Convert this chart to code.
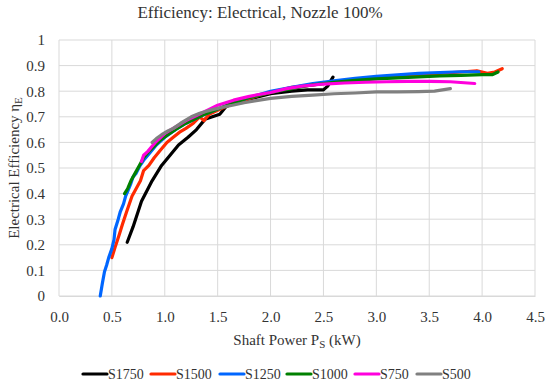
<!DOCTYPE html>
<html>
<head>
<meta charset="utf-8">
<script src="https://cdn.jsdelivr.net/npm/d3@7"></script>
<style>
  body { margin: 0; background: #fff; }
  svg text, svg tspan { font-family: "Liberation Serif", "Times New Roman", serif !important; fill: #333333; }
</style>
</head>
<body>
<div id="root"></div>
<script>
const width = 550;
const height = 388;
const margin = { top: 40, right: 14, bottom: 92, left: 59 };
const serif = '"Liberation Serif", "Times New Roman", serif';

const seriesNames = ['S1750', 'S1500', 'S1250', 'S1000', 'S750', 'S500'];
const seriesColors = ['#000000', '#ff2a00', '#0066ff', '#008000', '#ff00dd', '#808080'];

const xTicks = [0, 0.5, 1, 1.5, 2, 2.5, 3, 3.5, 4, 4.5];
const yTicks = [0, 0.1, 0.2, 0.3, 0.4, 0.5, 0.6, 0.7, 0.8, 0.9, 1];

// [shaft power kW, efficiency]
const s1750 = [
  [0.645, 0.21], [0.7, 0.27], [0.78, 0.37], [0.88, 0.45], [0.97, 0.51],
  [1.05, 0.55], [1.13, 0.59], [1.22, 0.62], [1.3, 0.65], [1.38, 0.69],
  [1.45, 0.7], [1.52, 0.71], [1.58, 0.74], [1.7, 0.76], [1.85, 0.775],
  [2.0, 0.79], [2.2, 0.8], [2.35, 0.805], [2.5, 0.805], [2.54, 0.82],
  [2.59, 0.855],
];
const s1500 = [
  [0.5, 0.15], [0.53, 0.19], [0.57, 0.24], [0.6, 0.28], [0.64, 0.33],
  [0.69, 0.39], [0.73, 0.42], [0.77, 0.45], [0.8, 0.49], [0.85, 0.51],
  [0.9, 0.54], [0.96, 0.57], [1.02, 0.6], [1.08, 0.62], [1.14, 0.64],
  [1.2, 0.655], [1.27, 0.675], [1.33, 0.7], [1.37, 0.685], [1.42, 0.71],
  [1.5, 0.725], [1.6, 0.745], [1.75, 0.765], [1.9, 0.785], [2.05, 0.8],
  [2.2, 0.815], [2.4, 0.825], [2.6, 0.835], [2.8, 0.845], [3.0, 0.85],
  [3.2, 0.86], [3.4, 0.865], [3.6, 0.87], [3.8, 0.875], [3.95, 0.88],
  [4.05, 0.87], [4.12, 0.875], [4.19, 0.888],
];
const s1250 = [
  [0.39, 0], [0.41, 0.05], [0.43, 0.095], [0.45, 0.12], [0.47, 0.15],
  [0.5, 0.185], [0.52, 0.22], [0.53, 0.26], [0.56, 0.3], [0.58, 0.33],
  [0.61, 0.36], [0.63, 0.39], [0.65, 0.41], [0.68, 0.44], [0.7, 0.465],
  [0.73, 0.48], [0.76, 0.505], [0.8, 0.53], [0.86, 0.56], [0.92, 0.59],
  [1.0, 0.62], [1.1, 0.65], [1.2, 0.675], [1.35, 0.705], [1.5, 0.73],
  [1.65, 0.755], [1.8, 0.775], [2.0, 0.8], [2.2, 0.815], [2.4, 0.83],
  [2.6, 0.84], [2.8, 0.85], [3.0, 0.858], [3.2, 0.864], [3.4, 0.87],
  [3.6, 0.873], [3.8, 0.876], [3.97, 0.876],
];
const s1000 = [
  [0.62, 0.4], [0.65, 0.42], [0.68, 0.45], [0.72, 0.48], [0.76, 0.51],
  [0.8, 0.54], [0.85, 0.565], [0.9, 0.585], [0.96, 0.61], [1.03, 0.63],
  [1.1, 0.65], [1.2, 0.675], [1.35, 0.705], [1.5, 0.73], [1.65, 0.755],
  [1.8, 0.775], [2.0, 0.795], [2.2, 0.81], [2.4, 0.825], [2.6, 0.835],
  [2.8, 0.842], [3.0, 0.848], [3.2, 0.852], [3.4, 0.856], [3.6, 0.86],
  [3.8, 0.862], [4.0, 0.865], [4.1, 0.865], [4.15, 0.875],
];
const s750 = [
  [0.78, 0.525], [0.8, 0.55], [0.84, 0.565], [0.87, 0.58], [0.91, 0.6],
  [0.95, 0.615], [1.0, 0.635], [1.1, 0.66], [1.2, 0.685], [1.3, 0.705],
  [1.4, 0.725], [1.5, 0.745], [1.65, 0.765], [1.8, 0.78], [2.0, 0.795],
  [2.15, 0.81], [2.3, 0.82], [2.5, 0.828], [2.7, 0.832], [2.9, 0.835],
  [3.1, 0.837], [3.3, 0.838], [3.5, 0.838], [3.7, 0.837], [3.93, 0.83],
];
const s500 = [
  [0.88, 0.6], [0.92, 0.615], [0.97, 0.63], [1.03, 0.645], [1.08, 0.655],
  [1.15, 0.675], [1.25, 0.7], [1.33, 0.714], [1.45, 0.728], [1.55, 0.738],
  [1.64, 0.745], [1.75, 0.755], [1.85, 0.762], [2.0, 0.772], [2.2, 0.78],
  [2.4, 0.785], [2.6, 0.79], [2.8, 0.793], [3.0, 0.797], [3.2, 0.797],
  [3.4, 0.798], [3.55, 0.8], [3.7, 0.81],
];

const seriesData = [s1750, s1500, s1250, s1000, s750, s500];

const svg = d3
  .select('#root')
  .append('svg')
  .attr('width', width)
  .attr('height', height)
  .style('font-family', serif);

// Scales

const xScale = d3
  .scaleLinear()
  .domain([0, 4.5])
  .range([margin.left, width - margin.right - 1]);

const yScale = d3
  .scaleLinear()
  .domain([0, 1])
  .range([height - margin.bottom, margin.top]);

// Grid

svg
  .append('g')
  .selectAll('line')
  .data(yTicks)
  .enter()
  .append('line')
  .attr('x1', xScale(0))
  .attr('x2', xScale(4.5))
  .attr('y1', (d) => yScale(d))
  .attr('y2', (d) => yScale(d))
  .attr('stroke', '#d9d9d9')
  .attr('stroke-width', 1);

svg
  .append('g')
  .selectAll('line')
  .data(xTicks)
  .enter()
  .append('line')
  .attr('x1', (d) => xScale(d))
  .attr('x2', (d) => xScale(d))
  .attr('y1', yScale(0))
  .attr('y2', yScale(1))
  .attr('stroke', '#d9d9d9')
  .attr('stroke-width', 1);

// Axes

const xAxis = d3
  .axisBottom(xScale)
  .tickValues(xTicks)
  .tickFormat(d3.format('.1f'))
  .tickSize(0)
  .tickPadding(15);

const gx = svg
  .append('g')
  .attr('transform', `translate(0, ${yScale(0)})`)
  .call(xAxis)
  .attr('font-family', serif)
  .attr('font-size', 15);
gx.select('.domain').attr('stroke', '#d9d9d9');

const yAxis = d3
  .axisLeft(yScale)
  .tickValues(yTicks)
  .tickFormat((d) => (d === 0 || d === 1 ? d3.format('d')(d) : d3.format('.1f')(d)))
  .tickSize(0)
  .tickPadding(14);

const gy = svg
  .append('g')
  .attr('transform', `translate(${margin.left}, 0)`)
  .call(yAxis)
  .attr('font-family', serif)
  .attr('font-size', 15);
gy.select('.domain').remove();

// Lines

const line = d3
  .line()
  .x((d) => xScale(d[0]))
  .y((d) => yScale(d[1]));

svg
  .append('g')
  .selectAll('path')
  .data(seriesData)
  .enter()
  .append('path')
  .attr('d', line)
  .attr('fill', 'none')
  .attr('stroke', (d, i) => seriesColors[i])
  .attr('stroke-width', 3.2)
  .attr('stroke-linejoin', 'round')
  .attr('stroke-linecap', 'round');

// Titles

svg
  .append('text')
  .attr('x', 260)
  .attr('y', 18)
  .attr('text-anchor', 'middle')
  .attr('font-size', 17)
  .text('Efficiency: Electrical, Nozzle 100%');

const xTitle = svg
  .append('text')
  .attr('x', (xScale(0) + xScale(4.5)) / 2)
  .attr('y', 345)
  .attr('text-anchor', 'middle')
  .attr('font-size', 15);
xTitle.append('tspan').text('Shaft Power P');
xTitle.append('tspan').attr('dy', 3).attr('font-size', 11).text('S');
xTitle.append('tspan').attr('dy', -3).text(' (kW)');

const yTitle = svg
  .append('text')
  .attr('transform', `translate(19, ${(yScale(0) + yScale(1)) / 2}) rotate(-90)`)
  .attr('text-anchor', 'middle')
  .attr('font-size', 15);
yTitle.append('tspan').text('Electrical Efficiency η');
yTitle.append('tspan').attr('dy', 3).attr('font-size', 11).text('E');

// Legend

const legendX = [83, 151, 220, 287, 355, 417];

const legend = svg
  .append('g')
  .selectAll('g')
  .data(seriesNames)
  .enter()
  .append('g')
  .attr('transform', (d, i) => `translate(${legendX[i]}, 374)`);

legend
  .append('line')
  .attr('x1', 0)
  .attr('x2', 24)
  .attr('stroke', (d, i) => seriesColors[i])
  .attr('stroke-width', 3.2)
  .attr('stroke-linecap', 'round');

legend
  .append('text')
  .attr('x', 25)
  .attr('y', 4.5)
  .attr('font-size', 14)
  .text((d) => d);

svg.selectAll('text').style('font-family', serif);
</script>
</body>
</html>
